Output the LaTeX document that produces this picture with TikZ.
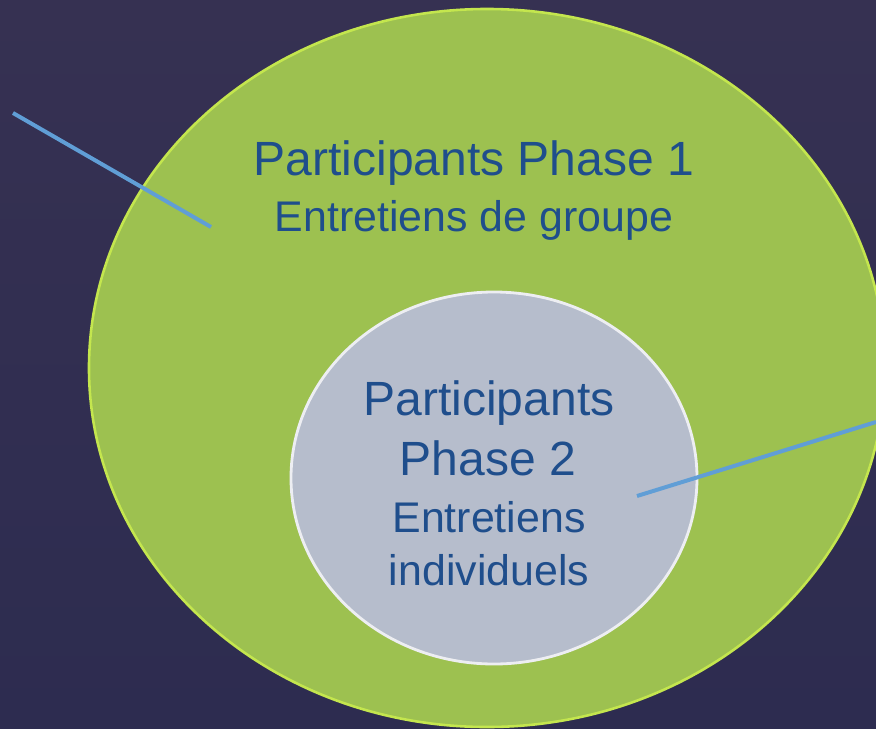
\documentclass[tikz,border=0pt]{standalone}
\usepackage{fontspec}
\setmainfont{Liberation Sans}
\usetikzlibrary{shapes.geometric}

\definecolor{nighttop}{RGB}{54,49,82}
\definecolor{nightbottom}{RGB}{45,44,80}
\definecolor{phasegreen}{RGB}{157,193,80}
\definecolor{limerim}{RGB}{196,230,78}
\definecolor{phasegrey}{RGB}{182,189,204}
\definecolor{phaseblue}{RGB}{31,78,140}
\definecolor{pointerblue}{RGB}{96,158,214}

\begin{document}
\begin{tikzpicture}[
        x=0.03cm, y=-0.03cm,
        circlebig/.style={ellipse, draw=limerim, line width=2.2pt, fill=phasegreen, minimum width=23.88cm, minimum height=21.54cm, inner sep=0pt},
        circlesmall/.style={ellipse, draw=white!75!phasegrey, line width=2.4pt, fill=phasegrey, minimum width=12.18cm, minimum height=11.16cm, inner sep=0pt},
        bigtext/.style={anchor=base, text=phaseblue, font=\fontsize{41}{48}\selectfont},
        smalltext/.style={anchor=base, text=phaseblue, font=\fontsize{36.6}{44}\selectfont},
        pointer/.style={draw=pointerblue, line width=3.4pt},
    ]
        \shade[top color=nighttop, bottom color=nightbottom] (0,0) rectangle (876,728);
        \useasboundingbox (0,0) rectangle (876,728);

        \node[circlebig] (phase1) at (487,368) {};
        \node[circlesmall] (phase2) at (494,478) {};

        \node[bigtext] (titre1) at (474,175) {Participants Phase 1};
        \node[smalltext] (sous1) at (474,231) {Entretiens de groupe};

        \node[bigtext] (titre2a) at (489,415) {Participants};
        \node[bigtext] (titre2b) at (488,475) {Phase 2};
        \node[smalltext] (sous2a) at (489,532) {Entretiens};
        \node[smalltext] (sous2b) at (489,585) {individuels};

        \coordinate (renvoi1) at (13,113);
        \coordinate (cible1) at (211,227);
        \coordinate (renvoi2) at (876,422);
        \coordinate (cible2) at (637,496);

        \draw[pointer] (renvoi1) -- (cible1);
        \draw[pointer] (renvoi2) -- (cible2);
    \end{tikzpicture}
\end{document}
